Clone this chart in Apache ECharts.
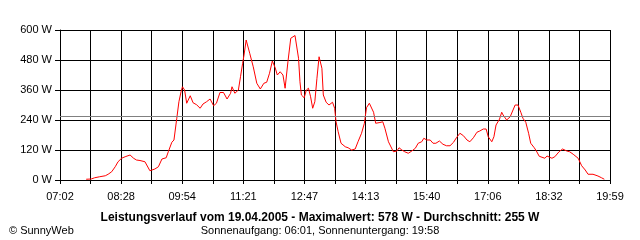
<!DOCTYPE html>
<html>
<head>
<meta charset="utf-8">
<script src="https://cdn.jsdelivr.net/npm/echarts@6/dist/echarts.min.js"></script>
<style>
  html, body { margin: 0; padding: 0; background: #fff; }
  #chart { width: 640px; height: 240px; }
</style>
</head>
<body>
<div id="chart"></div>
<script>
// Leistung (W) ueber die Uhrzeit
var times = [
  '07:39','07:46','07:51','07:58','08:06','08:10','08:15','08:20','08:24','08:29',
  '08:34','08:41','08:46','08:50','08:55','09:02','09:09','09:16','09:21','09:26',
  '09:32','09:35','09:40','09:43','09:47','09:50','09:53','09:55','09:58','10:01',
  '10:06','10:10','10:15','10:20','10:24','10:29','10:34','10:39','10:43','10:48',
  '10:53','10:58','11:03','11:05','11:09','11:14','11:17','11:20','11:22','11:25',
  '11:27','11:30','11:35','11:40','11:45','11:50','11:54','11:58','12:02','12:06',
  '12:09','12:13','12:17','12:20','12:24','12:28','12:34','12:39','12:41','12:43',
  '12:47','12:50','12:53','12:56','12:59','13:02','13:05','13:08','13:09','13:12',
  '13:14','13:18','13:22','13:27','13:30','13:32','13:35','13:39','13:45','13:49',
  '13:54','13:59','14:03','14:08','14:12','14:15','14:19','14:21','14:25','14:28',
  '14:34','14:38','14:41','14:46','14:53','14:58','15:01','15:05','15:09','15:14',
  '15:19','15:24','15:28','15:33','15:36','15:40','15:45','15:49','15:53','15:58',
  '16:03','16:08','16:13','16:18','16:22','16:27','16:32','16:37','16:41','16:46',
  '16:51','16:55','17:00','17:04','17:07','17:12','17:15','17:18','17:23','17:26',
  '17:28','17:33','17:38','17:42','17:45','17:49','17:53','17:56','18:00','18:04',
  '18:07','18:12','18:15','18:19','18:27','18:30','18:37','18:41','18:47','18:52',
  '18:58','19:02','19:07','19:14','19:19','19:24','19:28','19:35','19:42','19:47',
  '19:51'
];
var watts = [
  3,4,9,13,17,23,33,53,73,87,
  93,100,87,80,78,73,37,44,53,84,
  89,113,151,160,247,313,353,373,360,307,
  337,309,301,287,304,313,324,297,307,350,
  350,324,347,373,347,360,413,467,500,560,
  560,507,453,387,364,387,391,427,476,449,
  420,433,420,367,473,567,578,487,393,340,
  329,360,367,333,287,313,407,493,487,447,
  340,311,300,311,287,233,193,147,133,129,
  120,124,153,187,227,289,307,313,271,227,
  230,233,207,153,113,116,129,120,113,107,
  116,127,147,153,167,160,160,147,147,156,
  143,137,137,151,169,187,177,160,153,169,
  191,196,204,204,173,153,173,220,244,271,
  260,240,253,280,300,300,271,247,231,187,
  147,129,116,95,87,96,87,93,113,124,
  116,113,103,87,57,40,23,23,16,9,
  3
];
var avgWatt = 255;
var yTicks = [0, 120, 240, 360, 480, 600];

var startMin = 7 * 60 + 2;   // 07:02
var endMin = 19 * 60 + 59;   // 19:59
var span = endMin - startMin;
var step = span / 18;

function toMin(t) {
    var p = t.split(':');
    return parseInt(p[0], 10) * 60 + parseInt(p[1], 10) - startMin;
}
function pad(n) { return (n < 10 ? '0' : '') + n; }

var data = [];
for (var i = 0; i < times.length; i++) {
    data.push([toMin(times[i]), watts[i]]);
}

var font = 'Liberation Sans, Arial, sans-serif';
var chart = echarts.init(document.getElementById('chart'));
var option = {
    backgroundColor: '#fff',
    animation: false,
    title: [
        {
            text: 'Leistungsverlauf vom 19.04.2005 - Maximalwert: 578 W - Durchschnitt: 255 W',
            left: 'center', top: 207,
            textStyle: { fontFamily: font, fontSize: 12, fontWeight: 'bold', color: '#000' }
        },
        {
            text: 'Sonnenaufgang: 06:01, Sonnenuntergang: 19:58',
            left: 'center', top: 220,
            textStyle: { fontFamily: font, fontSize: 11, fontWeight: 'normal', color: '#000' }
        },
        {
            text: '© SunnyWeb',
            left: 4, top: 220,
            textStyle: { fontFamily: font, fontSize: 11, fontWeight: 'normal', color: '#000' }
        }
    ],
    grid: { left: 60, right: 30, top: 30, bottom: 60 },
    xAxis: {
        type: 'value',
        min: 0, max: span, interval: step,
        axisLine: { show: true, lineStyle: { color: '#000', width: 1 } },
        axisTick: { show: true, length: 4, lineStyle: { color: '#000' } },
        splitLine: { show: true, lineStyle: { color: '#000', width: 1 } },
        axisLabel: {
            showMinLabel: true, showMaxLabel: true,
            margin: 11, color: '#000', fontFamily: font, fontSize: 11,
            formatter: function (v) {
                var k = Math.round(v / step);
                if (k % 2) return '';
                var m = Math.floor(startMin + v + 1e-6);
                return pad(Math.floor(m / 60)) + ':' + pad(m % 60);
            }
        }
    },
    yAxis: {
        type: 'value',
        min: yTicks[0], max: yTicks[yTicks.length - 1], interval: 120,
        axisLine: { show: true, lineStyle: { color: '#000', width: 1 } },
        axisTick: { show: true, length: 5, lineStyle: { color: '#000' } },
        splitLine: { show: true, lineStyle: { color: '#000', width: 1 } },
        axisLabel: {
            margin: 8, color: '#000', fontFamily: font, fontSize: 11,
            formatter: '{value} W'
        }
    },
    series: [{
        type: 'line',
        data: data,
        showSymbol: false,
        symbol: 'none',
        lineStyle: { color: '#ff0000', width: 1 },
        markLine: {
            silent: true,
            symbol: 'none',
            label: { show: false },
            lineStyle: { color: '#808080', width: 1, type: 'solid' },
            data: [{ yAxis: avgWatt }]
        }
    }]
};
chart.setOption(option);
</script>
</body>
</html>
